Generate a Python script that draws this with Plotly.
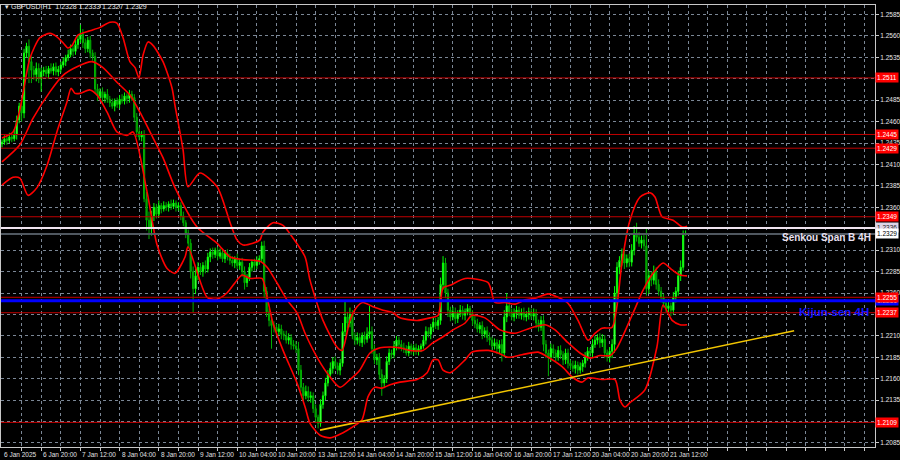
import plotly.graph_objects as go

TITLE = "\u25be GBPUSD,H1  1.2328 1.2333 1.2327 1.2329"

# ---- H1 candles, prices in pips (2436 -> 1.2436) ----
first_open = 2434
close_pips = (
    [2436, 2440, 2438, 2442, 2440, 2445, 2462, 2478, 2470]
    + [2540, 2548, 2530, 2520, 2515, 2522, 2510, 2518]
    + [2520, 2516, 2522, 2519, 2524, 2518, 2521]
    + [2526, 2530, 2535, 2538, 2545, 2542, 2550, 2556, 2562, 2552, 2545, 2555, 2540, 2536]
    + [2498, 2490, 2495, 2488, 2492, 2486, 2482, 2478, 2484, 2480, 2486, 2484, 2490, 2487, 2492, 2488]
    + [2465, 2448, 2442, 2445, 2370, 2345, 2335, 2350, 2360, 2352, 2362, 2358, 2362, 2360, 2364, 2361, 2365, 2360, 2362]
    + [2350, 2342, 2330, 2318, 2285, 2265, 2280, 2290, 2285, 2292, 2288, 2302, 2308, 2305, 2310, 2303, 2307, 2300, 2306, 2302]
    + [2298, 2295, 2300, 2292, 2296, 2285, 2272, 2278, 2290, 2296, 2292, 2298, 2300, 2315, 2262, 2238, 2228, 2222]
    + [2220, 2215, 2218, 2212, 2210, 2205, 2208, 2200, 2198, 2195, 2170, 2150, 2140, 2145, 2138, 2140, 2125, 2115, 2108, 2130, 2140]
    + [2155, 2165, 2172, 2180, 2175, 2170, 2178, 2215, 2232, 2225, 2235, 2210, 2205, 2208, 2202, 2210, 2206, 2212, 2215, 2195, 2182, 2185]
    + [2165, 2155, 2160, 2180, 2190, 2188, 2198, 2205, 2200, 2196, 2195, 2190, 2198, 2193, 2196, 2192, 2195, 2198, 2205, 2215, 2212, 2220, 2226, 2222, 2228]
    + [2270, 2295, 2260, 2240, 2232, 2238, 2230, 2236, 2240, 2234, 2238, 2242, 2236, 2228, 2224, 2218, 2222, 2212, 2216, 2208, 2205, 2198, 2202, 2195, 2200, 2190]
    + [2232, 2245, 2238, 2232, 2236, 2240, 2234, 2237, 2232, 2235, 2238, 2233, 2236, 2225, 2220, 2228, 2200, 2190, 2185, 2195, 2190, 2185, 2193, 2188, 2182, 2190]
    + [2178, 2175, 2172, 2176, 2170, 2174, 2178, 2185, 2192, 2190, 2200, 2205, 2208, 2202, 2206, 2190, 2185, 2192, 2200]
    + [2260, 2290, 2298, 2305, 2295, 2300, 2296, 2310, 2330, 2325, 2318, 2322, 2315, 2265, 2280, 2275, 2285, 2270, 2262, 2255, 2248, 2242, 2245, 2240, 2255, 2262, 2280, 2290, 2328, 2329]
)
upper_wick = (
    [3, 4, 3, 5, 4, 6, 5, 4, 6]
    + [5, 4, 8, 6, 5, 7, 6, 5]
    + [4, 5, 3, 6, 4, 5, 4]
    + [4, 5, 3, 6, 5, 4, 6, 5, 11, 6, 5, 4, 5, 4]
    + [5, 6, 4, 5, 3, 6, 4, 5, 3, 4, 5, 6, 4, 3, 5, 4]
    + [4, 5, 6, 4, 5, 8, 10, 6, 5, 4, 6, 3, 5, 4, 3, 5, 4, 3, 4]
    + [4, 5, 3, 4, 5, 6, 8, 6, 5, 4, 6, 5, 4, 5, 3, 4, 5, 4, 3, 5]
    + [4, 5, 3, 6, 4, 5, 6, 4, 5, 3, 4, 5, 4, 5, 6, 5, 4, 6]
    + [5, 4, 6, 5, 4, 6, 5, 4, 5, 6, 8, 6, 5, 7, 6, 5, 4, 5, 3, 6, 5]
    + [6, 5, 7, 5, 6, 4, 5, 10, 18, 6, 8, 5, 4, 6, 5, 4, 5, 8, 30, 6, 5, 4]
    + [5, 6, 4, 6, 5, 4, 6, 5, 4, 5, 6, 4, 5, 3, 4, 5, 4, 3, 5, 6, 5, 4, 6, 5, 4]
    + [8, 8, 6, 5, 4, 6, 5, 4, 6, 5, 4, 5, 3, 4, 5, 6, 4, 5, 4, 5, 6, 4, 5, 4, 5, 6]
    + [8, 15, 5, 4, 6, 5, 4, 5, 6, 4, 5, 4, 6, 5, 4, 5, 6, 5, 4, 6, 5, 4, 5, 6, 4, 5]
    + [5, 4, 6, 5, 4, 5, 4, 6, 5, 4, 6, 5, 4, 5, 6, 5, 4, 5, 6]
    + [8, 6, 5, 7, 6, 5, 6, 7, 8, 12, 6, 5, 8, 20, 6, 5, 7, 5, 6, 5, 4, 5, 6, 4, 6, 5, 6, 8, 5, 4]
)
lower_wick = (
    [4, 3, 5, 3, 4, 3, 6, 4, 10]
    + [6, 5, 25, 15, 6, 8, 5, 15]
    + [5, 4, 6, 3, 5, 4, 5]
    + [4, 3, 5, 4, 3, 6, 4, 5, 4, 6, 5, 4, 6, 5]
    + [5, 6, 4, 5, 6, 4, 5, 3, 6, 4, 5, 3, 4, 6, 5, 4]
    + [5, 6, 4, 5, 4, 12, 12, 8, 6, 5, 4, 5, 3, 4, 5, 4, 3, 5, 4]
    + [5, 4, 6, 5, 8, 28, 6, 5, 4, 6, 5, 4, 6, 5, 4, 5, 3, 4, 5, 4]
    + [5, 4, 6, 4, 5, 6, 8, 5, 4, 5, 6, 4, 5, 4, 8, 6, 7, 27]
    + [6, 5, 4, 6, 5, 4, 5, 6, 4, 5, 6, 5, 6, 4, 5, 6, 5, 6, 6, 4, 5]
    + [5, 4, 5, 6, 4, 5, 6, 4, 5, 6, 5, 4, 6, 5, 4, 5, 6, 4, 5, 6, 5, 6]
    + [6, 15, 6, 5, 4, 5, 4, 5, 6, 4, 5, 3, 4, 5, 6, 4, 5, 4, 3, 5, 4, 6, 5, 4, 5]
    + [5, 6, 6, 8, 5, 4, 6, 5, 4, 5, 6, 4, 5, 6, 5, 4, 5, 6, 4, 5, 6, 5, 4, 6, 5, 10]
    + [5, 6, 5, 4, 5, 6, 4, 5, 4, 5, 6, 4, 5, 6, 5, 4, 8, 6, 22, 5, 6, 5, 4, 5, 6, 5]
    + [6, 5, 4, 6, 5, 4, 6, 5, 4, 5, 6, 4, 5, 6, 5, 6, 5, 6, 8]
    + [10, 12, 8, 6, 7, 5, 6, 5, 6, 5, 4, 6, 5, 8, 6, 7, 5, 6, 5, 6, 5, 4, 7, 7, 5, 6, 5, 6, 4, 1]
)
assert len(close_pips) == len(upper_wick) == len(lower_wick) == 280

# ---- time axis labels (one every 16 H1 bars) ----
x_label_idx = list(range(0, 273, 16))
x_label_text = ["6 Jan 2025", "6 Jan 20:00", "7 Jan 12:00", "8 Jan 04:00", "8 Jan 20:00",
                "9 Jan 12:00", "10 Jan 04:00", "10 Jan 20:00", "13 Jan 12:00", "14 Jan 04:00",
                "14 Jan 20:00", "15 Jan 12:00", "16 Jan 04:00", "16 Jan 20:00", "17 Jan 12:00",
                "20 Jan 04:00", "20 Jan 20:00", "21 Jan 12:00"]
x_grid_idx = list(range(8, 360, 8))

# ---- price axis (labels hidden under level tags are left blank) ----
y_tick_vals = [1.2085 + 0.0025 * k for k in range(21)]
y_hidden = ["1.2110", "1.2235", "1.2335", "1.2510"]

# ---- band curves: (bar index, pips) ----
bb_upper = [(0, 2441), (4.5, 2448), (7.3, 2474), (11.4, 2534), (15.5, 2558), (19.6, 2563), (22.4, 2559),
            (24.9, 2552), (26.9, 2546), (28.6, 2549), (31, 2561), (35.9, 2566), (40, 2570), (44.1, 2576),
            (46.9, 2575), (49.4, 2558), (52.2, 2530), (54.3, 2523), (55.9, 2511), (57.6, 2538), (59.6, 2553),
            (61.6, 2549), (65.7, 2530), (69.4, 2499), (70.6, 2479), (73.9, 2427), (75.9, 2384), (80.8, 2400),
            (87.8, 2384), (93.1, 2342), (95.9, 2322), (98.4, 2316), (102.4, 2318), (105.3, 2322), (106.5, 2331),
            (110.6, 2342), (114.7, 2339), (118.8, 2324), (123.7, 2302), (125.7, 2275), (131, 2228), (136.7, 2197),
            (138.8, 2193), (142, 2228), (144.9, 2244), (147.3, 2249), (151.4, 2244), (155.5, 2240), (159.6, 2237),
            (162.4, 2231), (169.4, 2228), (174.7, 2231), (178, 2234), (180, 2266), (182.9, 2269), (189, 2277),
            (198.4, 2272), (201.2, 2249), (205.3, 2249), (209.4, 2247), (213.5, 2252), (217.6, 2254), (222.9, 2259),
            (226.9, 2255), (231, 2248), (235.1, 2228), (239.2, 2205), (242, 2213), (244.9, 2219), (249, 2220),
            (251, 2245), (253, 2295), (256.3, 2345), (260.4, 2372), (264.5, 2377), (266.5, 2372), (269.4, 2349),
            (273.9, 2345), (277.6, 2337), (279.6, 2338)]
bb_middle = [(0, 2413), (7.3, 2433), (12.7, 2464), (19.6, 2495), (24.9, 2514), (30.6, 2524), (36.7, 2530),
             (41.2, 2523), (46.9, 2506), (52.2, 2491), (56.3, 2471), (60.4, 2448), (65.7, 2418), (70.6, 2383),
             (79.6, 2337), (87.8, 2318), (93.1, 2302), (98.4, 2299), (105.3, 2297), (108.2, 2290), (112.2, 2272),
             (116.3, 2252), (120.4, 2237), (123.7, 2213), (128.6, 2185), (133.9, 2162), (138, 2150), (142, 2159),
             (146, 2170), (150.2, 2190), (154.3, 2196), (158.4, 2197), (162.4, 2196), (166.5, 2193), (171.8, 2193),
             (175.9, 2202), (180, 2209), (184.1, 2217), (189, 2225), (191.8, 2234), (197.1, 2231), (203.3, 2217),
             (209.4, 2213), (215.5, 2219), (221.6, 2223), (225.7, 2217), (231, 2202), (235.9, 2190), (240, 2184),
             (244.1, 2187), (248.2, 2187), (251, 2196), (257.6, 2237), (261.6, 2263), (265.7, 2283), (269.8, 2295),
             (273.5, 2287), (276.7, 2281), (279.6, 2280)]
bb_lower = [(0, 2386), (4.5, 2395), (7.3, 2394), (10.6, 2374), (14.3, 2383), (18.4, 2409), (22.4, 2448),
            (26.5, 2483), (28.2, 2499), (29.8, 2493), (31.8, 2493), (35.9, 2497), (38.8, 2491), (42.9, 2471),
            (46.9, 2448), (51, 2444), (53.5, 2448), (59.2, 2378), (63.3, 2316), (67.3, 2289), (70.6, 2283),
            (74.7, 2302), (75.9, 2314), (83.7, 2255), (87.8, 2253), (91.8, 2260), (95.9, 2275), (98, 2281),
            (101.2, 2277), (106.1, 2277), (108.2, 2255), (110.6, 2225), (114.7, 2193), (120.4, 2155), (123.7, 2127),
            (125.7, 2108), (129.8, 2094), (133.9, 2091), (139.2, 2097), (143.3, 2104), (146.9, 2112), (149.4, 2139),
            (152.2, 2150), (155.1, 2149), (158.4, 2153), (162.4, 2156), (169.4, 2159), (173.5, 2167), (175.9, 2182),
            (178, 2182), (180, 2170), (182.9, 2167), (189, 2182), (191.8, 2191), (198.4, 2193), (202.4, 2190),
            (206.5, 2185), (212.2, 2188), (218.8, 2191), (222.9, 2185), (228.6, 2174), (232.7, 2162), (236.7, 2156),
            (239.2, 2161), (244.9, 2159), (250.2, 2159), (252.2, 2135), (254.3, 2127), (256.3, 2132), (262.4, 2147),
            (267.3, 2197), (269.8, 2246), (273.5, 2228), (276.7, 2223), (279.6, 2223)]

# ---- horizontal levels ----
red_levels = [1.2511, 1.2445, 1.2429, 1.2349, 1.2255, 1.2237, 1.2109]
senkou_b = 1.2336
kijun = 1.2251
last_price = 1.2329

# ---- trend line (bar index, price) ----
trend_idx = [129.8, 323.3]
trend_price = [1.2100, 1.2216]


def px(p):
    return 1 + p / 10000.0


n = len(close_pips)
idx = list(range(n))
closes = [px(c) for c in close_pips]
opens = [px(first_open)] + closes[:-1]
highs = [max(o, c) + u / 10000.0 for o, c, u in zip(opens, closes, upper_wick)]
lows = [min(o, c) - l / 10000.0 for o, c, l in zip(opens, closes, lower_wick)]

FONT = "Liberation Sans, Arial, sans-serif"
fig = go.Figure()

fig.add_trace(go.Candlestick(
    x=idx, open=opens, high=highs, low=lows, close=closes,
    increasing=dict(line=dict(color="#00ff00", width=1), fillcolor="#a8ffa0"),
    decreasing=dict(line=dict(color="#00b000", width=1), fillcolor="#008c00"),
    whiskerwidth=0, hoverinfo="skip", showlegend=False,
))

for band in (bb_upper, bb_middle, bb_lower):
    fig.add_trace(go.Scatter(
        x=[b[0] for b in band], y=[px(b[1]) for b in band], mode="lines",
        line=dict(color="#ff0000", width=1.6, shape="spline", smoothing=0.7),
        hoverinfo="skip", showlegend=False,
    ))

fig.add_trace(go.Scatter(
    x=trend_idx, y=trend_price, mode="lines",
    line=dict(color="#f2c500", width=1.6), hoverinfo="skip", showlegend=False,
))

shapes = []
for lv in red_levels:
    shapes.append(dict(type="line", xref="paper", x0=0, x1=1, yref="y", y0=lv, y1=lv,
                       line=dict(color="#c00000", width=1)))
shapes.append(dict(type="line", xref="paper", x0=0, x1=1, yref="y", y0=last_price, y1=last_price,
                   line=dict(color="#505860", width=2)))
shapes.append(dict(type="line", xref="paper", x0=0, x1=1, yref="y", y0=senkou_b, y1=senkou_b,
                   line=dict(color="#f0e4f0", width=2)))
shapes.append(dict(type="line", xref="paper", x0=0, x1=1, yref="y", y0=kijun, y1=kijun,
                   line=dict(color="#0000ff", width=3)))

ann = []
ann.append(dict(x=0, xref="paper", y=1, yref="paper", xanchor="left", yanchor="middle", xshift=2, yshift=-1,
                text=TITLE, showarrow=False, font=dict(family=FONT, size=7, color="#e8e8e8")))
for i_lab, t_lab in zip(x_label_idx, x_label_text):
    ann.append(dict(x=i_lab, xref="x", y=0, yref="paper", xanchor="left", yanchor="top", yshift=-2,
                    text=t_lab, showarrow=False, font=dict(family=FONT, size=6.5, color="#e0e0e0")))


def price_label(val, bg, fg):
    return dict(x=1, xref="paper", y=val, yref="y", xanchor="left", yanchor="middle", xshift=0,
                text=f"{val:.4f}", showarrow=False, bgcolor=bg, borderpad=1,
                font=dict(family=FONT, size=6.5, color=fg))


ann.append(price_label(kijun, "#0000ff", "#ffffff"))
for lv in red_levels:
    ann.append(price_label(lv, "#ff0000", "#ffffff"))
ann.append(price_label(senkou_b, "#ddd4e6", "#202020"))
ann.append(price_label(last_price, "#ffffff", "#000000"))

ann.append(dict(x=1, xref="paper", y=senkou_b, yref="y", xanchor="right", yanchor="top", xshift=-2, yshift=-2,
                text="<b>Senkou Span B 4H</b>", showarrow=False,
                font=dict(family=FONT, size=10, color="#e8e0f0")))
ann.append(dict(x=1, xref="paper", y=kijun, yref="y", xanchor="right", yanchor="top", xshift=-4, yshift=-3,
                text="<b>Kijun-sen 4H</b>", showarrow=False,
                font=dict(family=FONT, size=11.5, color="#1414ff")))

fig.update_layout(
    width=900, height=460, margin=dict(l=1, r=25, t=5, b=13, autoexpand=False),
    paper_bgcolor="#000000", plot_bgcolor="#000000", showlegend=False,
    shapes=shapes, annotations=ann,
    xaxis=dict(range=[-0.41, 356.3], tickvals=x_grid_idx, showticklabels=False,
               showgrid=True, gridcolor="#7b8796", griddash="dot", gridwidth=1,
               ticks="outside", ticklen=3, tickcolor="#c8c8c8",
               showline=True, linecolor="#c8c8c8", linewidth=1, mirror=True,
               zeroline=False, rangeslider=dict(visible=False), fixedrange=True),
    yaxis=dict(range=[1.20803, 1.25961], side="right", tickvals=y_tick_vals,
               ticktext=["" if f"{v:.4f}" in y_hidden else f"{v:.4f}" for v in y_tick_vals],
               tickfont=dict(family=FONT, size=6.5, color="#e8e8e8"),
               showgrid=True, gridcolor="#7b8796", griddash="dot", gridwidth=1,
               ticks="outside", ticklen=3, tickcolor="#c8c8c8",
               showline=True, linecolor="#c8c8c8", linewidth=1, mirror=True,
               zeroline=False, fixedrange=True),
)

fig.write_html("out.html", config={"staticPlot": True},
               post_script="document.body.style.margin='0';document.body.style.overflow='hidden';")
